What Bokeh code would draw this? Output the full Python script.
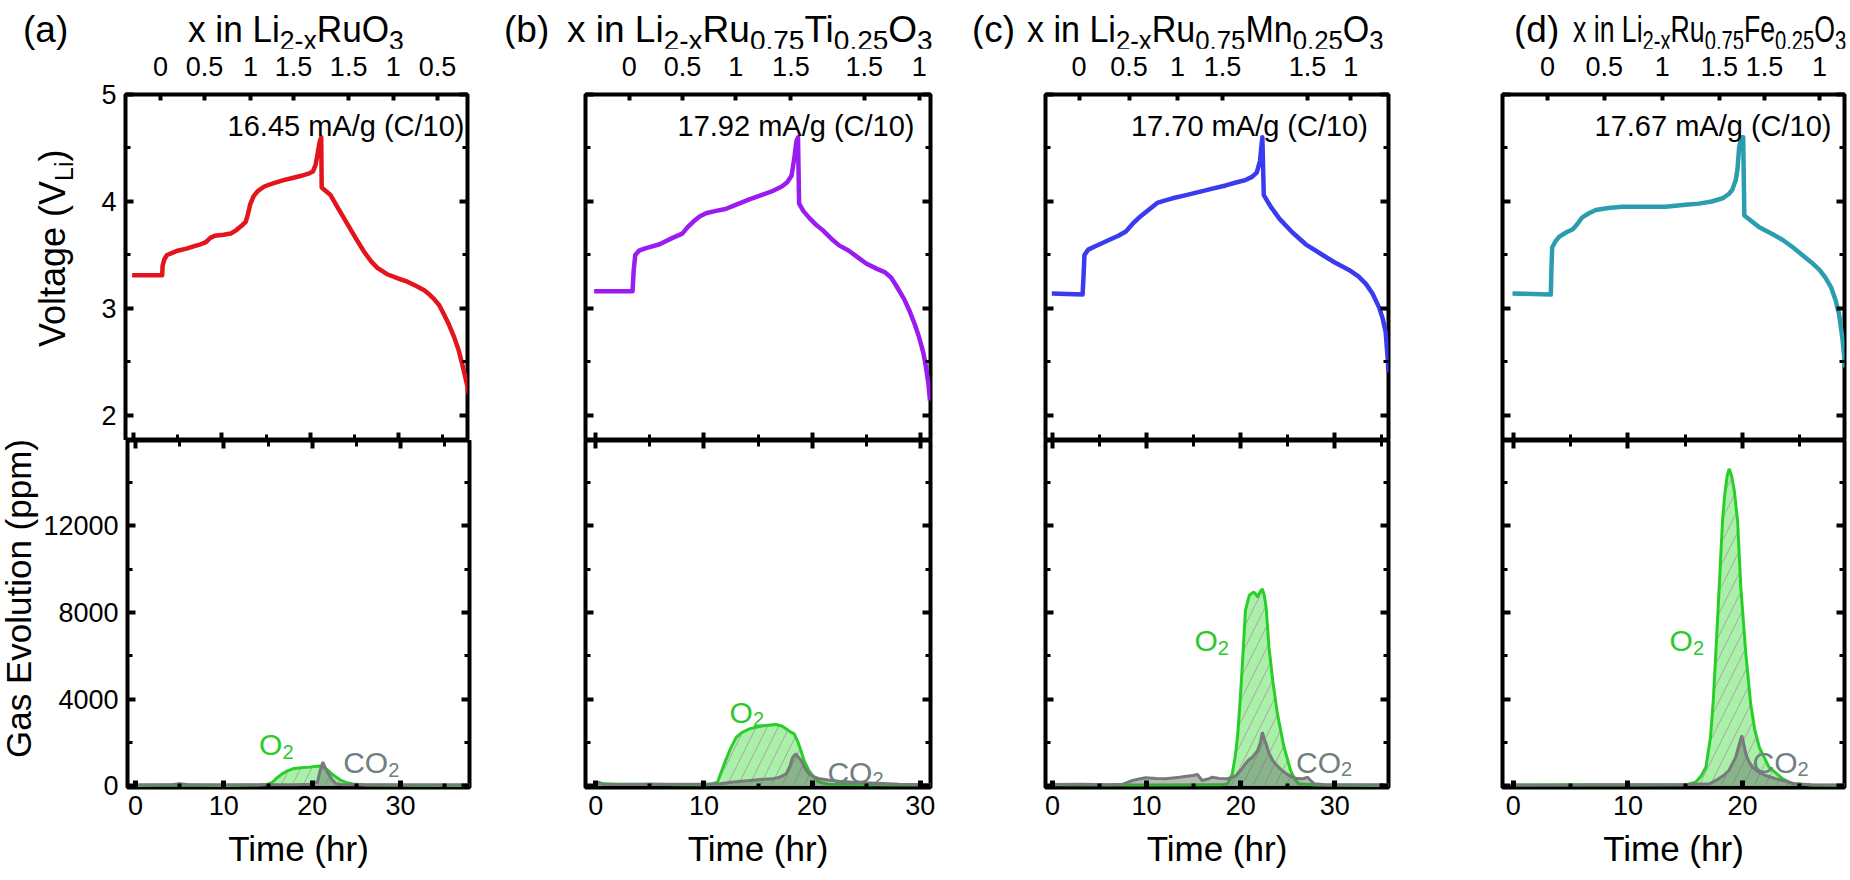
from bokeh.plotting import figure
from bokeh.models import Range1d, LinearAxis, FixedTicker, Label, Div
from bokeh.layouts import row, column
from bokeh.embed import file_html
from bokeh.resources import INLINE
from bokeh.core.properties import value

FONT = "Liberation Sans"

# ------------------------------------------------------------------ data
panel_letters = ["(a)", "(b)", "(c)", "(d)"]
dopants = [None, "Ti", "Mn", "Fe"]
rates = ["16.45 mA/g (C/10)", "17.92 mA/g (C/10)", "17.70 mA/g (C/10)", "17.67 mA/g (C/10)"]

time_ticks = [0, 10, 20, 30]
time_minor = [5, 15, 25, 35]
volt_ticks = [2, 3, 4, 5]
volt_minor = [2.5, 3.5, 4.5]
gas_ticks = [0, 4000, 8000, 12000]
gas_minor = [2000, 6000, 10000, 14000]

# composition (x in Li2-x...) top-axis ticks: time positions and labels
comp_time_a = [3.06, 8.04, 13.25, 18.1, 24.35, 29.4, 34.4]
comp_lab_a = ["0", "0.5", "1", "1.5", "1.5", "1", "0.5"]
comp_time_b = [3.09, 8.02, 12.95, 18.04, 24.83, 29.92]
comp_lab_b = ["0", "0.5", "1", "1.5", "1.5", "1"]
comp_time_c = [2.83, 8.14, 13.28, 18.07, 27.1, 31.7]
comp_lab_c = ["0", "0.5", "1", "1.5", "1.5", "1"]
comp_time_d = [2.99, 7.93, 13.0, 17.96, 21.9, 26.7]
comp_lab_d = ["0", "0.5", "1", "1.5", "1.5", "1"]

# voltage profiles (time hr, V vs Li)
vt_a = [-0.15, 3.25, 3.3, 3.5, 3.8, 4.4, 5.0, 6.0, 6.8, 7.6, 8.2, 8.7, 9.2, 10.2, 11.0, 11.6, 12.2, 12.7,
        12.95, 13.2, 13.6, 14.1, 14.8, 15.8, 17.0, 18.0, 19.0, 19.8, 20.3, 20.6, 20.85, 21.05, 21.25, 21.3,
        22.3, 23.2, 24.2, 25.2, 26.1, 26.9, 27.6, 28.7, 30.0, 31.0, 32.0, 32.9, 33.5, 34.0, 34.6, 35.1,
        35.7, 36.3, 36.8, 37.2, 37.6, 38.0]
vv_a = [3.31, 3.31, 3.40, 3.46, 3.50, 3.52, 3.54, 3.56, 3.58, 3.60, 3.62, 3.66, 3.68, 3.69, 3.70, 3.73, 3.77, 3.81,
        3.88, 3.97, 4.05, 4.10, 4.14, 4.17, 4.20, 4.22, 4.24, 4.26, 4.28, 4.34, 4.45, 4.55, 4.60, 4.13,
        4.06, 3.93, 3.79, 3.65, 3.53, 3.44, 3.38, 3.32, 3.28, 3.25, 3.21, 3.17, 3.13, 3.09, 3.03, 2.95,
        2.85, 2.73, 2.61, 2.48, 2.34, 2.19]

vt_b = [-0.15, 3.4, 3.5, 3.65, 4.0, 4.5, 5.9, 7.1, 8.0, 8.5, 9.0, 9.6, 10.2, 11.0, 12.0, 13.0, 14.2, 15.3,
        16.4, 17.2, 17.7, 18.1, 18.35, 18.55, 18.7, 18.8, 19.2, 19.8, 20.4, 21.0, 21.8, 22.5, 23.4, 24.2,
        25.0, 26.0, 26.7, 27.3, 27.8, 28.5, 29.0, 29.5, 29.9, 30.3, 30.5, 30.75, 30.9]
vv_b = [3.16, 3.16, 3.35, 3.50, 3.54, 3.56, 3.60, 3.66, 3.70, 3.76, 3.81, 3.86, 3.89, 3.91, 3.93, 3.97, 4.02, 4.06,
        4.10, 4.14, 4.18, 4.24, 4.40, 4.56, 4.60, 3.98, 3.91, 3.84, 3.78, 3.73, 3.65, 3.59, 3.54, 3.48,
        3.42, 3.37, 3.34, 3.29, 3.21, 3.09, 2.98, 2.85, 2.73, 2.58, 2.47, 2.30, 2.14]

vt_c = [-0.07, 3.2, 3.3, 3.4, 3.8, 4.5, 6.0, 7.0, 7.8, 8.5, 9.2, 10.2, 11.2, 12.0, 12.75, 14.2, 15.6, 17.0,
        18.4, 19.6, 20.5, 21.2, 21.7, 22.05, 22.2, 22.3, 22.45, 23.2, 24.1, 25.5, 26.9, 28.7, 30.0, 31.5,
        32.5, 33.3, 34.0, 34.7, 35.1, 35.4, 35.6, 35.7]
vv_c = [3.14, 3.13, 3.30, 3.50, 3.55, 3.58, 3.64, 3.68, 3.72, 3.79, 3.85, 3.92, 3.99, 4.01, 4.03, 4.06, 4.09, 4.12,
        4.15, 4.18, 4.20, 4.23, 4.27, 4.38, 4.52, 4.60, 4.06, 3.95, 3.84, 3.71, 3.60, 3.50, 3.43, 3.36,
        3.30, 3.23, 3.14, 3.01, 2.90, 2.78, 2.55, 2.40]

vt_d = [-0.06, 3.28, 3.33, 3.4, 3.7, 4.0, 4.6, 5.2, 5.6, 6.0, 6.6, 7.2, 8.3, 9.5, 11.5, 13.3, 15.0, 16.2,
        17.3, 18.25, 18.8, 19.1, 19.4, 19.55, 19.7, 19.9, 20.05, 20.15, 21.45, 22.5, 23.5, 24.4, 25.2, 26.0,
        26.7, 27.2, 27.7, 28.1, 28.4, 28.7, 28.95]
vv_d = [3.14, 3.13, 3.35, 3.57, 3.63, 3.67, 3.71, 3.74, 3.79, 3.85, 3.89, 3.92, 3.94, 3.95, 3.95, 3.95, 3.97, 3.98,
        4.00, 4.03, 4.07, 4.11, 4.20, 4.30, 4.51, 4.60, 4.60, 3.87, 3.76, 3.70, 3.64, 3.57, 3.50, 3.43,
        3.36, 3.29, 3.20, 3.08, 2.95, 2.72, 2.45]

# gas evolution (time hr, ppm)
o2_t_a = [0, 5, 10, 14, 15, 15.5, 16.0, 16.6, 17.2, 17.8, 18.7, 19.7, 20.8, 21.3, 21.8, 22.2, 22.7, 23.2,
          23.8, 24.6, 26, 30, 38]
o2_a = [0, 20, 0, 20, 60, 150, 350, 540, 680, 770, 820, 850, 900, 860, 700, 540, 390, 250,
        140, 70, 20, 10, 0]
co2_t_a = [0, 4, 5, 6, 10, 14, 18, 20.0, 20.6, 20.9, 21.2, 21.5, 21.9, 22.3, 22.7, 23.5, 30, 38]
co2_a = [30, 30, 80, 30, 40, 30, 40, 60, 150, 700, 1080, 800, 500, 250, 80, 40, 30, 30]

o2_t_b = [0, 2, 5, 8, 10.5, 11.25, 12.0, 12.5, 13.0, 13.5, 14.2, 15.0, 15.7, 16.65, 17.2, 17.6, 18.0, 18.35,
          18.7, 18.97, 19.3, 19.7, 20.2, 20.7, 21.5, 25, 31]
o2_b = [100, 60, 60, 40, 40, 150, 1156, 1750, 2235, 2450, 2620, 2720, 2774, 2820, 2750, 2620, 2480, 2389,
        2000, 1618, 1100, 694, 350, 154, 60, 30, 20]
co2_t_b = [0, 0.3, 0.7, 5, 10, 11.5, 12.5, 13.5, 14.2, 15.5, 16.35, 17.0, 17.6, 17.95, 18.2, 18.5, 18.75, 19.0,
           19.35, 19.7, 20.2, 20.7, 21.5, 22.5, 24.05, 26.0, 28, 31]
co2_b = [50, 150, 50, 60, 60, 80, 150, 200, 231, 290, 308, 380, 540, 900, 1300, 1464, 1300, 1156,
         800, 540, 400, 308, 250, 200, 139, 100, 60, 40]

o2_t_c = [0, 10, 18.0, 18.6, 19.1, 19.4, 19.66, 19.95, 20.2, 20.5, 20.9, 21.2, 21.4, 21.6, 21.8, 22.05, 22.3, 22.5,
          22.7, 23.0, 23.4, 23.9, 24.6, 25.3, 25.8, 26.2, 28, 36]
o2_c = [30, 20, 30, 80, 540, 1300, 2235, 4000, 5780, 8092, 8786, 8900, 8940, 8850, 8709, 8950, 9094, 8800,
        8246, 6397, 4855, 3314, 1772, 694, 250, 77, 20, 0]
co2_t_c = [0, 3, 6, 7.5, 8.5, 9.2, 9.9, 11.0, 12.0, 13.5, 14.9, 15.4, 15.9, 16.5, 17.0, 17.7, 18.4, 19.0, 19.5,
           20.0, 20.5, 20.9, 21.25, 21.8, 22.1, 22.3, 22.5, 22.7, 23.0, 23.4, 23.9, 24.4, 25.0, 25.5, 26.0,
           26.6, 27.1, 27.5, 27.8, 29, 36]
co2_c = [50, 60, 40, 60, 231, 300, 356, 320, 308, 380, 462, 509, 231, 300, 385, 330, 308, 360, 462,
         700, 1002, 1200, 1310, 1618, 2000, 2466, 2150, 1927, 1500, 1156, 900, 694, 500, 385, 320,
         308, 385, 200, 77, 40, 30]

o2_t_d = [0, 5, 10, 15.0, 15.9, 16.4, 16.8, 17.2, 17.45, 17.66, 17.96, 18.25, 18.45, 18.65, 18.83, 19.05, 19.27,
          19.56, 19.84, 20.28, 20.7, 21.05, 21.45, 22.3, 23.5, 24.35, 26, 29]
o2_d = [20, 30, 20, 30, 154, 450, 848, 2235, 4000, 6088, 9171, 12254, 13500, 14300, 14645, 14300, 13641,
        12254, 9171, 6088, 3777, 2600, 1772, 848, 308, 77, 20, 10]
co2_t_d = [0, 6, 10, 15, 17.1, 17.66, 18.3, 18.8, 19.1, 19.4, 19.7, 19.93, 20.1, 20.28, 20.55, 20.86, 21.4,
           22.0, 22.8, 23.5, 24.6, 26, 29]
co2_d = [20, 30, 40, 30, 77, 231, 450, 694, 1000, 1310, 1900, 2312, 1900, 1464, 1100, 848, 620,
         462, 330, 231, 77, 30, 20]

# ------------------------------------------------------------------ style / layout
voltage_colors = ["#e3141b", "#9a1cf0", "#3a3af0", "#2a9dae"]
O2_LINE = "#29cf29"
O2_FILL = "#a9f0a9"
CO2_LINE = "#767a7a"
CO2_FILL = "#5f6a64"
O2_TEXT = "#2cc82c"
CO2_TEXT = "#6e8080"

FRAME_W = [342, 345, 343, 342]
BORDER_L_UP = [50, 110, 110, 110]
BORDER_L_LO = [85, 110, 110, 110]
BORDER_R = [6, 5, 4, 6]
COL_W = [473, 460, 457, 458]
LEFT_DIV_W_UP = 75
LEFT_DIV_W_LO = 40
X_RANGE = [(-0.9, 37.8), (-0.95, 30.95), (-0.74, 35.7), (-0.93, 28.88)]
UP_H, LO_H = 346, 347
TITLE_H, TOP_B, BOT_B = 48, 46, 92
V_RANGE = (1.766, 5.0)
G_RANGE = (-92, 15953)

LETTER_X = [23, 29, 37, 122]     # px inside each column's title strip
TITLE_X = [188, 92, 92, 181]
TITLE_SCALE = [0.95, 1.0, 0.92, 0.72]
TITLE_F, SUB_F = 37, 28
RATE_T = [10.65, 7.56, 8.34, 7.09]
RATE_V = 4.71
O2_LAB = [(13.99, 1896), (12.37, 3390), (15.09, 6705), (13.63, 6705)]
CO2_LAB = [(23.5, 1050), (21.42, 615), (25.88, 1077), (20.86, 1077)]

AW = {"O": 778, "C": 722}


def tw(s, size):
    return sum(AW.get(ch, 556) for ch in s) * size / 1000.0


def add_axis(p, side, ticks, minor, labeled, major_in=8, minor_in=5, maj_w=4, min_w=3,
             standoff=8, overrides=None):
    ax = LinearAxis(ticker=FixedTicker(ticks=ticks, minor_ticks=minor))
    ax.axis_line_color = None
    ax.major_tick_in = major_in
    ax.major_tick_out = 0
    ax.minor_tick_in = minor_in
    ax.minor_tick_out = 0
    ax.major_tick_line_width = maj_w
    ax.minor_tick_line_width = min_w
    ax.major_tick_line_color = "black"
    ax.minor_tick_line_color = "black"
    if labeled:
        ax.major_label_text_font = FONT
        ax.major_label_text_font_size = "27px"
        ax.major_label_text_color = "black"
        ax.major_label_standoff = standoff
    else:
        ax.major_label_text_font_size = "0px"
        ax.major_label_text_color = None
        ax.major_label_standoff = 0
    if overrides:
        ax.major_label_overrides = overrides
    p.add_layout(ax, side)
    return ax


def base_fig(i, frame_h, yr, left, top, bottom):
    p = figure(frame_width=FRAME_W[i], frame_height=frame_h,
               x_range=Range1d(*X_RANGE[i]), y_range=Range1d(*yr),
               x_axis_location=None, y_axis_location=None,
               toolbar_location=None, output_backend="svg",
               min_border_left=left, min_border_right=BORDER_R[i],
               min_border_top=top, min_border_bottom=bottom)
    p.outline_line_color = "black"
    p.outline_line_width = 4
    p.background_fill_color = "white"
    p.border_fill_color = "white"
    p.xgrid.visible = False
    p.ygrid.visible = False
    return p


def label(p, x, y, text, size, color="black", xo=0, yo=0):
    p.add_layout(Label(x=x, y=y, text=text, x_offset=xo, y_offset=yo,
                       text_font=FONT, text_font_size=f"{size}px", text_color=color,
                       text_align="left", text_baseline="alphabetic"))


SUB = "<sub style='font-size:" + str(SUB_F) + "px;vertical-align:-8px;line-height:0'>{}</sub>"


def title_div(i):
    if dopants[i] is None:
        formula = "x in Li" + SUB.format("2-x") + "RuO" + SUB.format("3")
    else:
        formula = ("x in Li" + SUB.format("2-x") + "Ru" + SUB.format("0.75") + dopants[i]
                   + SUB.format("0.25") + "O" + SUB.format("3"))
    html = (
        f"<div style=\"position:relative;width:{COL_W[i]}px;height:{TITLE_H}px;"
        f"font-family:'{FONT}';color:#000;\">"
        f"<span style='position:absolute;left:{LETTER_X[i]}px;top:11px;font-size:{TITLE_F}px;"
        f"line-height:{TITLE_F}px;white-space:nowrap'>{panel_letters[i]}</span>"
        f"<span style='position:absolute;left:{TITLE_X[i]}px;top:11px;font-size:{TITLE_F}px;"
        f"line-height:{TITLE_F}px;white-space:nowrap;transform-origin:left center;"
        f"transform:scaleX({TITLE_SCALE[i]})'>{formula}</span></div>"
    )
    return Div(text=html, width=COL_W[i], height=TITLE_H, margin=0)


def rotated_div(width, height, inner, left, top, size):
    html = (
        f"<div style=\"position:relative;width:{width}px;height:{height}px;"
        f"font-family:'{FONT}';color:#000;\">"
        f"<div style='position:absolute;left:{left}px;top:{top}px;font-size:{size}px;"
        f"line-height:{size}px;white-space:nowrap;transform-origin:left top;"
        f"transform:rotate(-90deg)'>{inner}</div></div>"
    )
    return Div(text=html, width=width, height=height, margin=0)


volt_t = [vt_a, vt_b, vt_c, vt_d]
volt_v = [vv_a, vv_b, vv_c, vv_d]
o2_t = [o2_t_a, o2_t_b, o2_t_c, o2_t_d]
o2_v = [o2_a, o2_b, o2_c, o2_d]
co2_t = [co2_t_a, co2_t_b, co2_t_c, co2_t_d]
co2_v = [co2_a, co2_b, co2_c, co2_d]
comp_t = [comp_time_a, comp_time_b, comp_time_c, comp_time_d]
comp_l = [comp_lab_a, comp_lab_b, comp_lab_c, comp_lab_d]

columns = []
for i in range(4):
    # ---------------- upper (voltage) panel
    up = base_fig(i, UP_H, V_RANGE, BORDER_L_UP[i], TOP_B, 0)
    add_axis(up, "left", volt_ticks, volt_minor, labeled=(i == 0), standoff=9)
    add_axis(up, "right", volt_ticks, volt_minor, labeled=False)
    add_axis(up, "below", time_ticks, time_minor, labeled=False, major_in=8, minor_in=6)
    add_axis(up, "above", comp_t[i], [], labeled=True, major_in=6, maj_w=4, standoff=19,
             overrides={float(t): s for t, s in zip(comp_t[i], comp_l[i])})
    up.line(volt_t[i], volt_v[i], line_color=voltage_colors[i], line_width=4.5, line_join="round")
    up.text(x=[RATE_T[i]], y=[RATE_V], text=[rates[i]], text_font=value(FONT),
            text_font_size=value("29px"), text_align="left", text_baseline="alphabetic",
            text_color="black")

    # ---------------- lower (gas) panel
    lo = base_fig(i, LO_H, G_RANGE, BORDER_L_LO[i], 0, BOT_B)
    add_axis(lo, "left", gas_ticks, gas_minor, labeled=(i == 0), standoff=9)
    add_axis(lo, "right", gas_ticks, gas_minor, labeled=False)
    add_axis(lo, "above", time_ticks, time_minor, labeled=False, major_in=8, minor_in=6)
    bx = add_axis(lo, "below", time_ticks, time_minor, labeled=True, major_in=7, minor_in=4,
                  maj_w=5, min_w=4, standoff=8)
    bx.axis_label = "Time (hr)"
    bx.axis_label_text_font = FONT
    bx.axis_label_text_font_size = "35px"
    bx.axis_label_text_font_style = "normal"
    bx.axis_label_text_color = "black"
    bx.axis_label_standoff = 11

    lo.varea(x=o2_t[i], y1=0, y2=o2_v[i], fill_color=O2_FILL, fill_alpha=1.0,
             hatch_pattern="/", hatch_color="#b48ea6", hatch_alpha=0.8, hatch_scale=22,
             hatch_weight=1)
    lo.line(o2_t[i], o2_v[i], line_color=O2_LINE, line_width=3)
    lo.varea(x=co2_t[i], y1=0, y2=co2_v[i], fill_color=CO2_FILL, fill_alpha=0.45)
    lo.line(co2_t[i], co2_v[i], line_color=CO2_LINE, line_width=3)

    ox, oy = O2_LAB[i]
    label(lo, ox, oy, "O", 30, color=O2_TEXT)
    label(lo, ox, oy, "2", 20, color=O2_TEXT, xo=tw("O", 30), yo=-7)
    cx, cy = CO2_LAB[i]
    label(lo, cx, cy, "CO", 30, color=CO2_TEXT)
    label(lo, cx, cy, "2", 20, color=CO2_TEXT, xo=tw("CO", 30), yo=-7)

    if i == 0:
        v_inner = "Voltage (V<sub style='font-size:25px;vertical-align:-8px;line-height:0'>Li</sub>)"
        div_v = rotated_div(LEFT_DIV_W_UP, TOP_B + UP_H, v_inner, 35, 299, 36)
        div_g = rotated_div(LEFT_DIV_W_LO, LO_H + BOT_B, "Gas Evolution (ppm)", 1, 318, 35)
        col = column(title_div(i), row(div_v, up), row(div_g, lo))
    else:
        col = column(title_div(i), up, lo)
    columns.append(col)

layout = row(*columns)
open("out.html", "w").write(file_html(layout, INLINE, "Gas evolution"))
